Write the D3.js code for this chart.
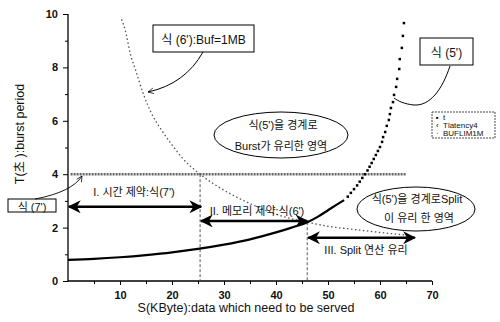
<!DOCTYPE html>
<html><head><meta charset="utf-8">
<script src="https://cdn.jsdelivr.net/npm/d3@7"></script>
<style>body{margin:0;background:#fff}svg{display:block}</style>
</head><body><svg id="c" width="500" height="322"></svg>
<script>
// ---- data ----
const tLineS = [0, 5, 10, 15, 20, 25, 30, 35, 40, 43, 46, 48, 50, 52, 53.1];
const tLineT = [0.79, 0.83, 0.89, 0.97, 1.07, 1.2, 1.36, 1.56, 1.82, 2.0, 2.2, 2.4, 2.65, 2.9, 3.03];
const tDotS = [53.8, 54.4, 55.0, 55.6, 56.1, 56.6, 57.1, 57.6, 58.0, 58.4, 58.8, 59.2, 59.6, 60.0, 60.4, 60.6, 61.0, 61.3, 61.7, 61.9, 62.1, 62.5, 62.7, 63.1, 63.3, 63.7, 63.8, 64.2, 64.4, 64.6];
const tDotT = [3.16, 3.30, 3.44, 3.58, 3.72, 3.86, 4.0, 4.14, 4.28, 4.42, 4.57, 4.72, 4.87, 5.02, 5.21, 5.39, 5.58, 5.81, 6.03, 6.25, 6.48, 6.70, 6.97, 7.27, 7.57, 7.94, 8.31, 8.73, 9.18, 9.66];
const latencyS = [0.5, 65];
const latencyT = [4, 4];
const bufS = [10.3, 11, 12, 13, 14.5, 16, 18, 20, 22, 25.4, 30, 35, 40, 46, 50, 55, 60, 65];
const bufT = [9.8, 9.4, 8.5, 7.9, 7.0, 6.3, 5.65, 5.1, 4.6, 4.0, 3.4, 2.9, 2.5, 2.2, 2.05, 1.93, 1.82, 1.72];
const xTicks = [10, 20, 30, 40, 50, 60, 70];
const yTicks = [0, 2, 4, 6, 8, 10];
const seriesNames = ["t", "Tlatency4", "BUFLIM1M"];
const xTitle = "S(KByte):data which need to be served";
const yTitle = "T(초 ):burst period";

// ---- layout ----
const svg = d3.select("#c");
const x = d3.scaleLinear().domain([0, 70]).range([68, 432]);
const y = d3.scaleLinear().domain([0, 10]).range([281, 14]);
const latin = "'Liberation Sans', Arial, sans-serif";
const kr = "'Liberation Sans', 'Noto Sans CJK KR', sans-serif";

const defs = svg.append("defs");
defs.append("marker").attr("id", "ah").attr("viewBox", "0 0 10 10")
  .attr("refX", 9).attr("refY", 5).attr("markerWidth", 5).attr("markerHeight", 5)
  .attr("orient", "auto-start-reverse").attr("markerUnits", "strokeWidth")
  .append("path").attr("d", "M0,0 L10,5 L0,10 L3,5 Z").attr("fill", "#000");
defs.append("marker").attr("id", "open").attr("viewBox", "0 0 10 10")
  .attr("refX", 9).attr("refY", 5).attr("markerWidth", 7).attr("markerHeight", 7)
  .attr("orient", "auto").attr("markerUnits", "userSpaceOnUse")
  .append("path").attr("d", "M1,1 L9,5 L1,9").attr("fill", "none").attr("stroke", "#000").attr("stroke-width", 1);

// axes
const gx = svg.append("g").attr("transform", `translate(0,${y(0)})`)
  .call(d3.axisBottom(x).tickValues(xTicks).tickSize(4).tickPadding(6).tickFormat(d3.format("d")));
svg.append("g").attr("transform", `translate(0,${y(0)})`)
  .call(d3.axisBottom(x).tickValues(d3.range(5, 70, 10)).tickSize(3).tickFormat(""))
  .call(g => g.select(".domain").remove());
const gy = svg.append("g").attr("transform", `translate(${x(0)},0)`)
  .call(d3.axisLeft(y).tickValues(yTicks).tickSize(5).tickPadding(5).tickFormat(d3.format("d")));
svg.append("g").attr("transform", `translate(${x(0)},0)`)
  .call(d3.axisLeft(y).tickValues([1, 3, 5, 7, 9]).tickSize(3).tickFormat(""))
  .call(g => g.select(".domain").remove());
gx.select(".domain").attr("d", `M${x(0)},0H${x(70)}`).attr("stroke-width", 1.3);
gy.select(".domain").attr("d", `M0,${y(0)}V${y(10)}`).attr("stroke-width", 1.3);
svg.selectAll(".tick text").attr("font-family", latin).attr("font-size", 11).attr("font-weight", "bold").attr("fill", "#111");
svg.selectAll(".tick line").attr("stroke", "#000");

// axis titles
svg.append("text").attr("x", 246).attr("y", 312).attr("text-anchor", "middle")
  .attr("font-family", kr).attr("font-size", 12.5).attr("fill", "#111").text(xTitle);
svg.append("text").attr("transform", `translate(24,${134}) rotate(-90)`).attr("text-anchor", "middle")
  .attr("font-family", kr).attr("font-size", 12.5).attr("fill", "#111").text(yTitle);

// dashed verticals
const vlines = [[25.4, 4], [46, 2.2]];
svg.selectAll(".vl").data(vlines).enter().append("line")
  .attr("x1", d => x(d[0])).attr("x2", d => x(d[0])).attr("y1", d => y(d[1])).attr("y2", y(0))
  .attr("stroke", "#444").attr("stroke-width", 0.9).attr("stroke-dasharray", "3,2");

// Tlatency4 series
const line = d3.line().x(d => x(d[0])).y(d => y(d[1]));
svg.append("path").datum(d3.zip(latencyS, latencyT)).attr("d", line)
  .attr("fill", "none").attr("stroke", "#666").attr("stroke-width", 2.4).attr("stroke-dasharray", "2,1");

// BUFLIM1M series
svg.append("path").datum(d3.zip(bufS, bufT)).attr("d", d3.line().x(d => x(d[0])).y(d => y(d[1])).curve(d3.curveMonotoneX))
  .attr("fill", "none").attr("stroke", "#555").attr("stroke-width", 1.3).attr("stroke-dasharray", "1.5,2.5");

// t series
svg.append("path").datum(d3.zip(tLineS, tLineT)).attr("d", d3.line().x(d => x(d[0])).y(d => y(d[1])).curve(d3.curveMonotoneX))
  .attr("fill", "none").attr("stroke", "#000").attr("stroke-width", 2.2);
svg.selectAll(".tdot").data(d3.zip(tDotS, tDotT)).enter().append("rect")
  .attr("x", d => x(d[0]) - 1.25).attr("y", d => y(d[1]) - 1.25).attr("width", 2.5).attr("height", 2.5).attr("fill", "#000");

// double arrows
const arrows = [[0, 25.6, 2.78], [25.4, 46, 2.25], [46, 66.7, 1.62]];
svg.selectAll(".da").data(arrows).enter().append("line")
  .attr("x1", d => x(d[0]) + 1).attr("x2", d => x(d[1])).attr("y1", d => y(d[2])).attr("y2", d => y(d[2]))
  .attr("stroke", "#000").attr("stroke-width", 2.6)
  .attr("marker-start", "url(#ah)").attr("marker-end", "url(#ah)");

// region labels
function label(t, cx, cy, size, anchor) {
  svg.append("text").attr("x", cx).attr("y", cy).attr("text-anchor", anchor || "middle")
    .attr("dominant-baseline", "central").attr("font-family", kr).attr("font-size", size || 11)
    .attr("fill", "#111").text(t);
}
label("I. 시간 제약:식(7')", 134, 192);
label("II. 메모리 제약:식(6')", 257, 211);
label("III. Split 연산 유리", 366, 250);

// ellipses
svg.append("ellipse").attr("cx", 281).attr("cy", 135).attr("rx", 67).attr("ry", 23)
  .attr("fill", "#fff").attr("stroke", "#000").attr("stroke-width", 1);
label("식(5')을 경계로", 283, 125);
label("Burst가 유리한 영역", 281, 146);
svg.append("ellipse").attr("cx", 416).attr("cy", 209).attr("rx", 59).attr("ry", 22)
  .attr("fill", "#fff").attr("stroke", "#000").attr("stroke-width", 1);
label("식(5')을 경계로Split", 417, 199);
label("이 유리 한 영역", 419, 218);

// boxes with callouts
function box(t, x0, y0, w, h, size) {
  svg.append("rect").attr("x", x0).attr("y", y0).attr("width", w).attr("height", h)
    .attr("fill", "#fff").attr("stroke", "#000").attr("stroke-width", 1);
  label(t, x0 + w / 2, y0 + h / 2 + 1, size || 12);
}
box("식 (6'):Buf=1MB", 153, 25, 101, 27);
svg.append("path").attr("d", "M203,52 Q185,84 148,92").attr("fill", "none").attr("stroke", "#000").attr("stroke-width", 1).attr("marker-end", "url(#open)");
box("식 (5')", 420, 38, 53, 27);
svg.append("path").attr("d", "M450,66 C442,90 430,106 414,105 C404,104 398,101 394,98").attr("fill", "none").attr("stroke", "#000").attr("stroke-width", 1);
box("식 (7')", 8, 199, 48, 13, 11);
svg.append("path").attr("d", "M35,199 Q72,192 82,176").attr("fill", "none").attr("stroke", "#000").attr("stroke-width", 0.9).attr("marker-end", "url(#open)");

// legend
const lg = svg.append("g").attr("transform", "translate(432,112)");
lg.append("rect").attr("width", 63).attr("height", 26).attr("fill", "#fff").attr("stroke", "#333").attr("stroke-width", 0.9).attr("stroke-dasharray", "2,1");
const sym = ["■", "‹", "·"];
seriesNames.forEach((n, i) => {
  lg.append("text").attr("x", 4).attr("y", 5 + i * 8).attr("dominant-baseline", "central").attr("font-size", i === 0 ? 4 : 8).attr("font-family", latin).text(sym[i]);
  lg.append("text").attr("x", 11).attr("y", 5 + i * 8).attr("dominant-baseline", "central")
    .attr("font-family", latin).attr("font-size", 8).attr("fill", "#111").text(n);
});
</script></body></html>
